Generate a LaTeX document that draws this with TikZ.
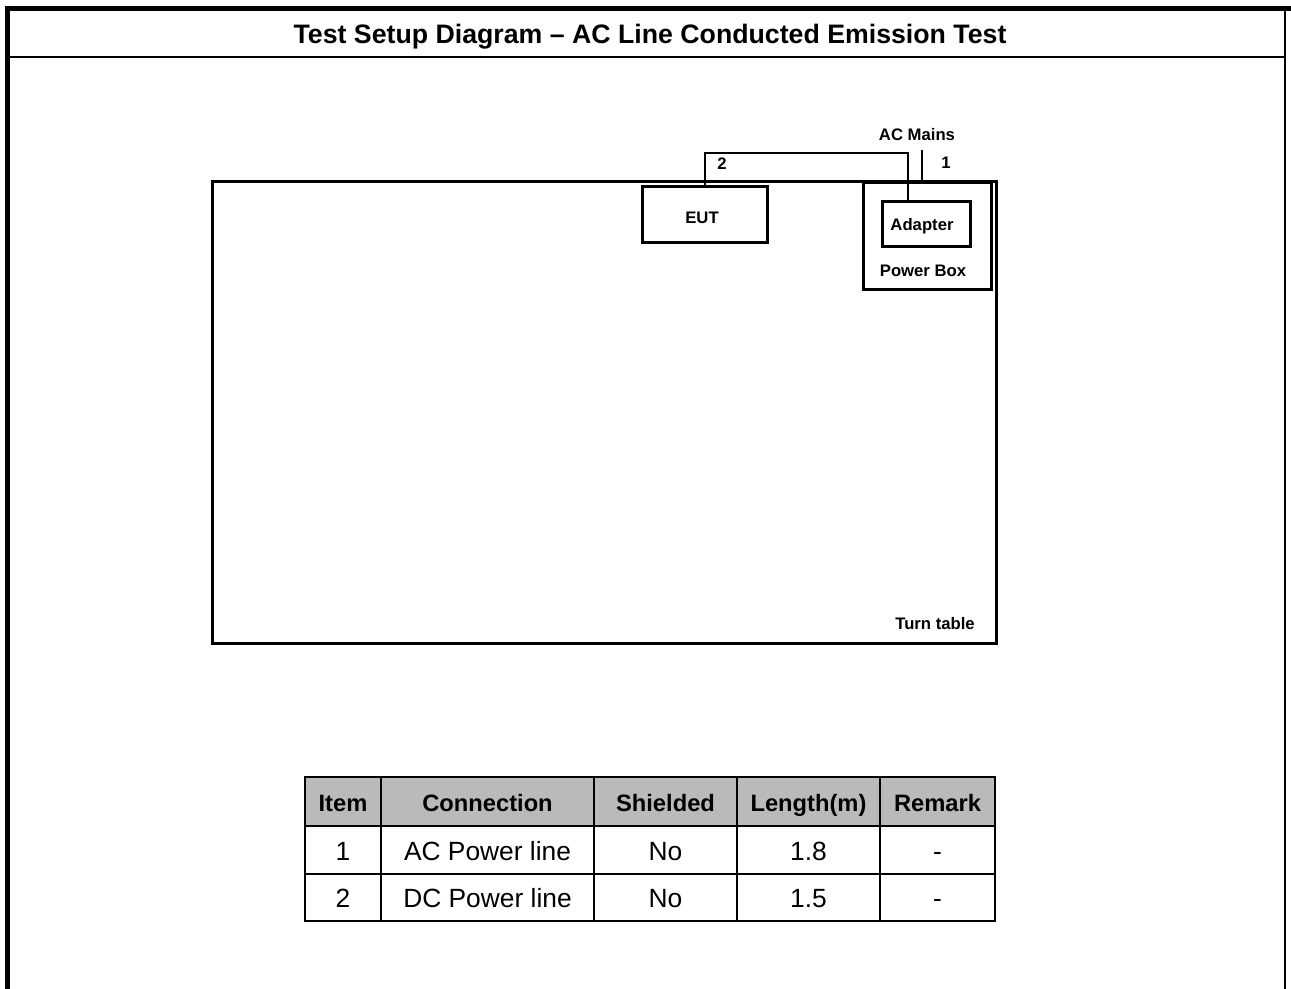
\documentclass[tikz,border=0pt]{standalone}
\usepackage{fontspec}
\setmainfont{Liberation Sans}
\usepackage{tikz}

\begin{document}
\begin{tikzpicture}[x=0.02cm, y=-0.02cm, line join=miter,
    box/.style={draw, line width=1.7pt, inner sep=0pt},
    cable/.style={line width=1.2pt},
    txt/.style={inner sep=0pt, text height=0.72em, text depth=0em},
    lbl/.style={txt, font=\fontsize{9.5}{11}\selectfont\bfseries},
    hdr/.style={txt, yshift=-1.5pt, font=\fontsize{13.5}{16}\selectfont\bfseries},
    cell/.style={txt, yshift=-1.7pt, font=\fontsize{15}{18}\selectfont},
    tabline/.style={line width=1.5pt}]
  \useasboundingbox (0,0) rectangle (1291,989);

% --- 1. THE PAGE FRAME AND TITLE ---
  \draw[line width=2.8pt] (7.5,989) -- (7.5,8.5) -- (1291,8.5);
  \draw[line width=0.9pt] (1285,8.5) -- (1285,989);
  \draw[line width=1.1pt] (7.5,57) -- (1285,57);
  \node[txt, yshift=-1.7pt, font=\fontsize{15.2}{18}\selectfont\bfseries] (title) at (650,34)
    {Test Setup Diagram – AC Line Conducted Emission Test};

% --- 2. TURN TABLE WITH EUT AND POWER BOX ---
  \node[box, minimum width=15.68cm, minimum height=9.24cm] (turntable) at (604.5,412.5) {};
  \node[lbl] (ttlabel) at (935,623) {Turn table};

  \node[box, minimum width=2.5cm, minimum height=1.12cm] (eut) at (705,214.5) {};
  \node[lbl] (eutlabel) at (702,217) {EUT};

  \node[box, minimum width=2.56cm, minimum height=2.14cm] (powerbox) at (927.5,236) {};
  \node[lbl] (pblabel) at (923,270) {Power Box};
  \node[box, minimum width=1.76cm, minimum height=0.9cm] (adapter) at (926.5,224) {};
  \node[lbl] (adlabel) at (922,224) {Adapter};

  % cable 2: DC line from EUT to adapter
  \coordinate (dcbend) at (908,153);
  \draw[cable] (eut.north) |- (dcbend) -- (dcbend |- adapter.north);
  \node[lbl] (no2) at (722,163) {2};

  % cable 1: AC mains into the power box
  \coordinate (mains) at (922,150);
  \draw[cable] (mains) -- (mains |- powerbox.north);
  \node[lbl] (acmains) at (917,134) {AC Mains};
  \node[lbl] (no1) at (946,162) {1};

% --- 3. THE CABLE TABLE ---
  \fill[black!27] (305,777) rectangle (995,826);
  \draw[tabline] (305,777) rectangle (995,921);
  \foreach \y in {826,874}
    \draw[tabline] (305,\y) -- (995,\y);
  \foreach \x in {381,594,737,880}
    \draw[tabline] (\x,777) -- (\x,921);

  % header row
  \foreach \x/\t [count=\c] in {343/Item, 487.5/Connection, 665.5/Shielded, 808.5/Length(m), 937.5/Remark}
    \node[hdr] (h\c) at (\x,803) {\t};
  % rows
  \foreach \x/\t [count=\c] in {343/1, 487.5/AC Power line, 665.5/No, 808.5/1.8, 937.5/-}
    \node[cell] (a\c) at (\x,851) {\t};
  \foreach \x/\t [count=\c] in {343/2, 487.5/DC Power line, 665.5/No, 808.5/1.5, 937.5/-}
    \node[cell] (b\c) at (\x,898) {\t};
\end{tikzpicture}
\end{document}
